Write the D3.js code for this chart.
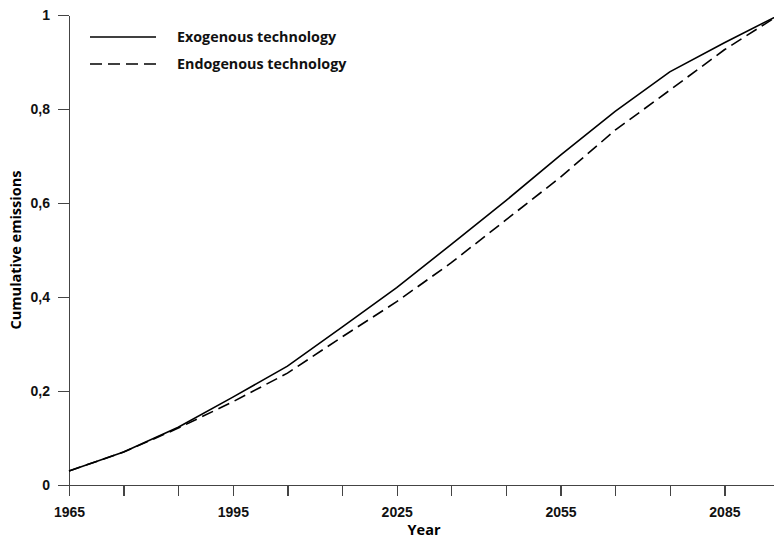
<!DOCTYPE html>
<meta charset="utf-8">
<style>
body { margin: 0; background: #fff; }
svg { font-family: "Open Sans", "DejaVu Sans", sans-serif; }
.axis path, .axis line { fill: none; stroke: #444; stroke-width: 1.3; shape-rendering: crispEdges; }
.axis text { font-size: 14px; font-weight: 700; fill: #111; font-variant-numeric: oldstyle-nums; }
.series { fill: none; stroke: #000; stroke-width: 1.6; }
.legend { font-size: 14.3px; font-weight: 700; fill: #111; }
.title { font-size: 14.5px; font-weight: 700; fill: #000; }
</style>
<body>
<script src="https://d3js.org/d3.v7.min.js"></script>
<script>

// data
var years = [1965, 1975, 1985, 1995, 2005, 2015, 2025, 2035, 2045, 2055, 2065, 2075, 2085, 2095];
var exogenous = [0.030, 0.070, 0.123, 0.187, 0.253, 0.336, 0.420, 0.512, 0.605, 0.702, 0.795, 0.879, 0.941, 1.0];
var endogenous = [0.030, 0.070, 0.121, 0.177, 0.238, 0.315, 0.390, 0.473, 0.564, 0.655, 0.755, 0.840, 0.926, 1.0];

var xTicks = d3.range(1965, 2096, 10);
var xLabels = [1965, 1995, 2025, 2055, 2085];
var yTicks = [0, 0.2, 0.4, 0.6, 0.8, 1];

var seriesNames = ["Exogenous technology", "Endogenous technology"];
var seriesDash = [null, "12,6"];

var margin = {top: 15, left: 69},
    width = 710,
    height = 470;

var svg = d3.select("body").append("svg")
    .attr("width", 774)
    .attr("height", 540)
  .append("g")
    .attr("transform", "translate(" + margin.left + "," + margin.top + ")");

var x = d3.scaleLinear().domain([1965, 2095]).range([0, width]);
var y = d3.scaleLinear().domain([0, 1]).range([height, 0]);

// axes
svg.append("g")
    .attr("class", "x axis")
    .attr("transform", "translate(0," + height + ")")
    .call(d3.axisBottom(x)
        .tickValues(xTicks)
        .tickSize(11)
        .tickSizeOuter(0)
        .tickPadding(11)
        .tickFormat(function(d) { return xLabels.indexOf(d) >= 0 ? d : ""; }));

svg.append("g")
    .attr("class", "y axis")
    .call(d3.axisLeft(y)
        .tickValues(yTicks)
        .tickSize(11)
        .tickSizeOuter(0)
        .tickPadding(8)
        .tickFormat(function(d) { return String(d).replace(".", ","); }));

// lines
var line = d3.line()
    .x(function(d) { return x(d[0]); })
    .y(function(d) { return y(d[1]); });

[exogenous, endogenous].forEach(function(vals, i) {
    svg.append("path")
        .attr("class", "series")
        .attr("stroke-dasharray", seriesDash[i])
        .attr("d", line(years.map(function(yr, j) { return [yr, vals[j]]; })));
});

// legend
seriesNames.forEach(function(name, i) {
    var ly = 22 + i * 27;
    svg.append("line")
        .attr("class", "series")
        .attr("x1", 21).attr("x2", 87)
        .attr("y1", ly).attr("y2", ly)
        .attr("stroke-dasharray", seriesDash[i]);
    svg.append("text")
        .attr("class", "legend")
        .attr("x", 108)
        .attr("y", ly)
        .attr("dy", "0.35em")
        .text(name);
});

// axis titles
svg.append("text")
    .attr("class", "title")
    .attr("x", 355)
    .attr("y", height + 50)
    .attr("text-anchor", "middle")
    .text("Year");

svg.append("text")
    .attr("class", "title")
    .attr("transform", "translate(-48," + (height / 2) + ") rotate(-90)")
    .attr("text-anchor", "middle")
    .text("Cumulative emissions");

</script>
</body>
